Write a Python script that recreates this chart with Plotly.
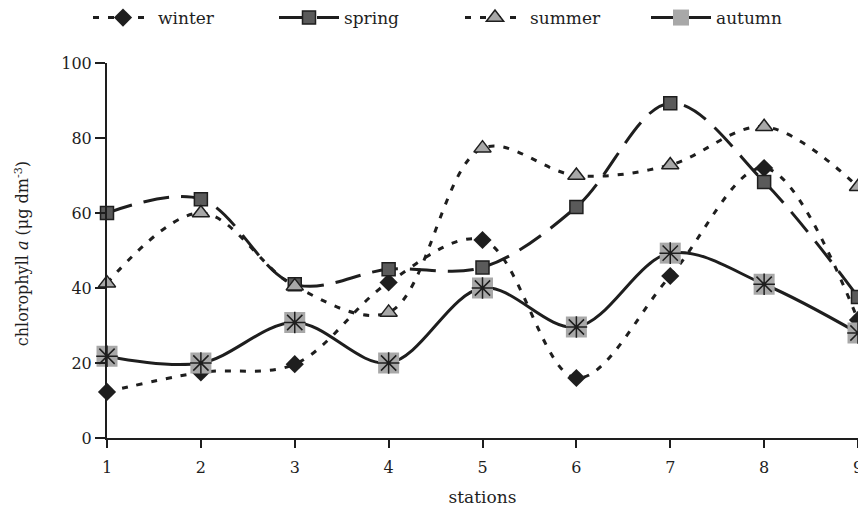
import plotly.graph_objects as go

stations = [1, 2, 3, 4, 5, 6, 7, 8, 9]
winter = [12.3, 17.5, 19.7, 41.5, 52.8, 16.0, 43.2, 72.0, 31.5]
spring = [60.0, 63.7, 41.0, 45.0, 45.5, 61.6, 89.3, 68.3, 37.6]
summer = [41.3, 60.0, 40.5, 33.5, 77.3, 70.0, 72.8, 83.0, 67.0]
autumn = [21.8, 20.0, 30.8, 20.0, 40.0, 29.6, 49.3, 41.0, 28.0]
y_ticks = [0, 20, 40, 60, 80, 100]

LINE = "#1e1e1e"
FONT = "DejaVu Serif"

fig = go.Figure()

fig.add_trace(go.Scatter(
    x=stations, y=winter, name="winter", mode="lines+markers",
    line=dict(color=LINE, width=3, dash="6px,9px", shape="spline", smoothing=1),
    marker=dict(symbol="diamond", size=14, color=LINE, line=dict(width=0)),
    cliponaxis=False))

fig.add_trace(go.Scatter(
    x=stations, y=spring, name="spring", mode="lines+markers",
    line=dict(color=LINE, width=3, dash="26px,12px", shape="spline", smoothing=1),
    marker=dict(symbol="square", size=13, color="#5a5a5a", line=dict(width=1.5, color=LINE)),
    cliponaxis=False))

fig.add_trace(go.Scatter(
    x=stations, y=summer, name="summer", mode="lines+markers",
    line=dict(color=LINE, width=3, dash="6px,9px", shape="spline", smoothing=1),
    marker=dict(symbol="triangle-up", size=15, color="#a8a8a8", line=dict(width=1.5, color=LINE)),
    cliponaxis=False))

fig.add_trace(go.Scatter(
    x=stations, y=autumn, name="autumn", mode="lines+markers",
    line=dict(color=LINE, width=3, shape="spline", smoothing=1),
    marker=dict(symbol="square", size=21, color="#a8a8a8", line=dict(width=0)),
    cliponaxis=False, legendgroup="autumn"))

fig.add_trace(go.Scatter(
    x=stations, y=autumn, name="autumn", mode="markers", showlegend=False,
    marker=dict(symbol="asterisk-open", size=18, color=LINE, line=dict(width=1.5, color=LINE)),
    cliponaxis=False, legendgroup="autumn"))

# the page has an 8px body margin, so the figure starts at (8, 8) in the window
fig.update_layout(
    width=858, height=503,
    margin=dict(l=99, r=8, t=55, b=73, autoexpand=False),
    paper_bgcolor="white", plot_bgcolor="white",
    font=dict(family=FONT, size=16, color="#1e1e1e"),
    showlegend=True,
    legend=dict(orientation="h", x=80 / 858, xref="container", xanchor="left",
                y=1.12, yanchor="middle", yref="paper", font=dict(size=17),
                entrywidth=111, entrywidthmode="pixels", itemwidth=60,
                bgcolor="rgba(0,0,0,0)"),
    xaxis=dict(range=[1, 9], tickvals=stations, ticks="outside", ticklen=8, tickwidth=2,
               tickcolor=LINE, showline=True, linecolor=LINE, linewidth=2, showgrid=False,
               zeroline=False, ticklabeloverflow="allow", ticklabelstandoff=6,
               title=dict(text="stations", font=dict(size=17), standoff=15)),
    yaxis=dict(range=[0, 100], tickvals=y_ticks, ticks="outside", ticklen=10, tickwidth=2,
               tickcolor=LINE, showline=True, linecolor=LINE, linewidth=2, showgrid=False,
               zeroline=False, ticksuffix="\u00a0\u00a0"),
    annotations=[dict(text="chlorophyll <i>a</i> (μg dm<sup>-3</sup>)", textangle=-90,
                      xref="paper", yref="paper", x=0, y=0.49, xshift=-85,
                      xanchor="center", yanchor="middle", showarrow=False,
                      font=dict(size=16))],
)

fig.write_html("out.html")
